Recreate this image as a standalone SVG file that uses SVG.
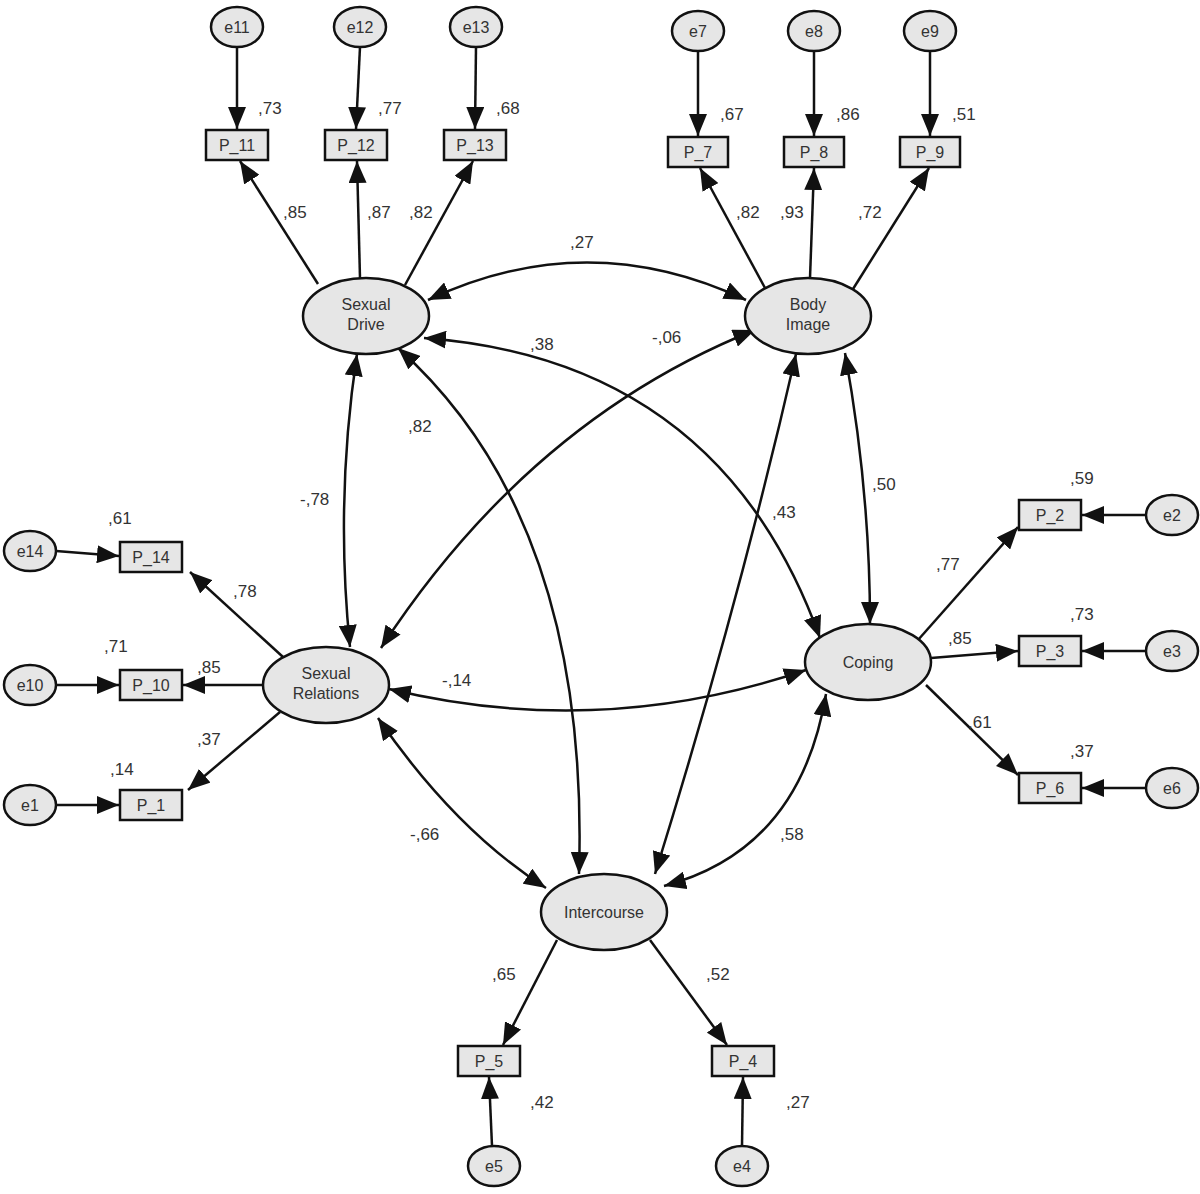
<svg xmlns="http://www.w3.org/2000/svg" width="1200" height="1194" viewBox="0 0 1200 1194">
<style>
text{font-family:"Liberation Sans",Arial,sans-serif;fill:#333;}
.lat{fill:#e6e6e6;stroke:#111;stroke-width:2.5}
.box{fill:#e6e6e6;stroke:#111;stroke-width:2.5}
.t{font-size:16px;text-anchor:middle}
.n{font-size:17px}
.c path,.c line{stroke:#111;stroke-width:2.5;fill:none}
.a{marker-end:url(#ah)}
.d{marker-end:url(#ah);marker-start:url(#ahs)}
</style>
<defs>
<marker id="ah" markerUnits="userSpaceOnUse" markerWidth="24" markerHeight="18" refX="22" refY="9" orient="auto"><path d="M0,0 L22,9 L0,18 Z" fill="#111"/></marker>
<marker id="ahs" markerUnits="userSpaceOnUse" markerWidth="24" markerHeight="18" refX="22" refY="9" orient="auto-start-reverse"><path d="M0,0 L22,9 L0,18 Z" fill="#111"/></marker>
</defs>
<g class="c" id="connectors">
<line class="a" x1="237" y1="47" x2="237" y2="129"/>
<line class="a" x1="360" y1="47" x2="356" y2="129"/>
<line class="a" x1="476" y1="47" x2="475" y2="129"/>
<line class="a" x1="698" y1="51" x2="698" y2="136"/>
<line class="a" x1="814" y1="51" x2="814" y2="136"/>
<line class="a" x1="930" y1="51" x2="930" y2="136"/>
<line class="a" x1="56" y1="551" x2="119" y2="556"/>
<line class="a" x1="56" y1="685" x2="119" y2="685"/>
<line class="a" x1="56" y1="805" x2="119" y2="805"/>
<line class="a" x1="1146" y1="515" x2="1082" y2="515"/>
<line class="a" x1="1146" y1="651" x2="1082" y2="651"/>
<line class="a" x1="1146" y1="788" x2="1082" y2="788"/>
<line class="a" x1="492" y1="1146" x2="489" y2="1077"/>
<line class="a" x1="742" y1="1146" x2="743" y2="1077"/>
<line class="a" x1="318" y1="284" x2="240" y2="161"/>
<line class="a" x1="360" y1="278" x2="357" y2="161"/>
<line class="a" x1="405" y1="285" x2="473" y2="161"/>
<line class="a" x1="765" y1="288" x2="700" y2="168"/>
<line class="a" x1="810" y1="278" x2="814" y2="168"/>
<line class="a" x1="853" y1="289" x2="929" y2="168"/>
<line class="a" x1="283" y1="657" x2="190" y2="572"/>
<line class="a" x1="263" y1="685" x2="183" y2="685"/>
<line class="a" x1="280" y1="712" x2="188" y2="790"/>
<line class="a" x1="918" y1="640" x2="1018" y2="527"/>
<line class="a" x1="931" y1="658" x2="1018" y2="651"/>
<line class="a" x1="926" y1="685" x2="1018" y2="775"/>
<line class="a" x1="557" y1="940" x2="503" y2="1045"/>
<line class="a" x1="650" y1="940" x2="727" y2="1045"/>
<path class="d" d="M428,300 Q587,225 746,300"/>
<path class="d" d="M357,354 Q335,500 350,647"/>
<path class="d" d="M398,348 Q590,520 579,874"/>
<path class="d" d="M424,338 Q720,360 820,638"/>
<path class="d" d="M755,330 Q530,420 381,648"/>
<path class="d" d="M796,354 Q740,600 655,874"/>
<path class="d" d="M845,353 Q870,490 870,624"/>
<path class="d" d="M389,689 Q600,740 806,670"/>
<path class="d" d="M378,718 Q455,830 546,888"/>
<path class="d" d="M826,694 Q800,850 664,886"/>
</g>
<g id="SexualDrive"><ellipse class="lat" cx="366" cy="316" rx="63" ry="38"/><text class="t" x="366" y="310">Sexual</text><text class="t" x="366" y="330">Drive</text></g>
<g id="BodyImage"><ellipse class="lat" cx="808" cy="316" rx="63" ry="38"/><text class="t" x="808" y="310">Body</text><text class="t" x="808" y="330">Image</text></g>
<g id="SexualRelations"><ellipse class="lat" cx="326" cy="685" rx="63" ry="38"/><text class="t" x="326" y="679">Sexual</text><text class="t" x="326" y="699">Relations</text></g>
<g id="Coping"><ellipse class="lat" cx="868" cy="662" rx="63" ry="38"/><text class="t" x="868" y="668">Coping</text></g>
<g id="Intercourse"><ellipse class="lat" cx="604" cy="912" rx="63" ry="38"/><text class="t" x="604" y="918">Intercourse</text></g>
<g id="e11"><ellipse class="lat" cx="237" cy="27" rx="26" ry="20"/><text class="t" x="237" y="33">e11</text></g>
<g id="e12"><ellipse class="lat" cx="360" cy="27" rx="26" ry="20"/><text class="t" x="360" y="33">e12</text></g>
<g id="e13"><ellipse class="lat" cx="476" cy="27" rx="26" ry="20"/><text class="t" x="476" y="33">e13</text></g>
<g id="e7"><ellipse class="lat" cx="698" cy="31" rx="26" ry="20"/><text class="t" x="698" y="37">e7</text></g>
<g id="e8"><ellipse class="lat" cx="814" cy="31" rx="26" ry="20"/><text class="t" x="814" y="37">e8</text></g>
<g id="e9"><ellipse class="lat" cx="930" cy="31" rx="26" ry="20"/><text class="t" x="930" y="37">e9</text></g>
<g id="e14"><ellipse class="lat" cx="30" cy="551" rx="26" ry="20"/><text class="t" x="30" y="557">e14</text></g>
<g id="e10"><ellipse class="lat" cx="30" cy="685" rx="26" ry="20"/><text class="t" x="30" y="691">e10</text></g>
<g id="e1"><ellipse class="lat" cx="30" cy="805" rx="26" ry="20"/><text class="t" x="30" y="811">e1</text></g>
<g id="e2"><ellipse class="lat" cx="1172" cy="515" rx="26" ry="20"/><text class="t" x="1172" y="521">e2</text></g>
<g id="e3"><ellipse class="lat" cx="1172" cy="651" rx="26" ry="20"/><text class="t" x="1172" y="657">e3</text></g>
<g id="e6"><ellipse class="lat" cx="1172" cy="788" rx="26" ry="20"/><text class="t" x="1172" y="794">e6</text></g>
<g id="e5"><ellipse class="lat" cx="494" cy="1166" rx="26" ry="20"/><text class="t" x="494" y="1172">e5</text></g>
<g id="e4"><ellipse class="lat" cx="742" cy="1166" rx="26" ry="20"/><text class="t" x="742" y="1172">e4</text></g>
<g id="P_11"><rect class="box" x="206" y="130" width="62" height="30"/><text class="t" x="237" y="151">P_11</text></g>
<g id="P_12"><rect class="box" x="325" y="130" width="62" height="30"/><text class="t" x="356" y="151">P_12</text></g>
<g id="P_13"><rect class="box" x="444" y="130" width="62" height="30"/><text class="t" x="475" y="151">P_13</text></g>
<g id="P_7"><rect class="box" x="668" y="137" width="60" height="30"/><text class="t" x="698" y="158">P_7</text></g>
<g id="P_8"><rect class="box" x="784" y="137" width="60" height="30"/><text class="t" x="814" y="158">P_8</text></g>
<g id="P_9"><rect class="box" x="900" y="137" width="60" height="30"/><text class="t" x="930" y="158">P_9</text></g>
<g id="P_14"><rect class="box" x="120" y="542" width="62" height="30"/><text class="t" x="151" y="563">P_14</text></g>
<g id="P_10"><rect class="box" x="120" y="670" width="62" height="30"/><text class="t" x="151" y="691">P_10</text></g>
<g id="P_1"><rect class="box" x="120" y="790" width="62" height="30"/><text class="t" x="151" y="811">P_1</text></g>
<g id="P_2"><rect class="box" x="1019" y="500" width="62" height="30"/><text class="t" x="1050" y="521">P_2</text></g>
<g id="P_3"><rect class="box" x="1019" y="636" width="62" height="30"/><text class="t" x="1050" y="657">P_3</text></g>
<g id="P_6"><rect class="box" x="1019" y="773" width="62" height="30"/><text class="t" x="1050" y="794">P_6</text></g>
<g id="P_5"><rect class="box" x="458" y="1046" width="62" height="30"/><text class="t" x="489" y="1067">P_5</text></g>
<g id="P_4"><rect class="box" x="712" y="1046" width="62" height="30"/><text class="t" x="743" y="1067">P_4</text></g>
<g id="labels" class="n">
<text x="258" y="114">,73</text><text x="378" y="114">,77</text><text x="496" y="114">,68</text>
<text x="720" y="120">,67</text><text x="836" y="120">,86</text><text x="952" y="120">,51</text>
<text x="283" y="218">,85</text><text x="367" y="218">,87</text><text x="409" y="218">,82</text>
<text x="736" y="218">,82</text><text x="780" y="218">,93</text><text x="858" y="218">,72</text>
<text x="570" y="248">,27</text><text x="530" y="350">,38</text><text x="652" y="343">-,06</text>
<text x="408" y="432">,82</text><text x="300" y="505">-,78</text><text x="772" y="518">,43</text><text x="872" y="490">,50</text>
<text x="108" y="524">,61</text><text x="233" y="597">,78</text><text x="104" y="652">,71</text><text x="197" y="673">,85</text>
<text x="197" y="745">,37</text><text x="110" y="775">,14</text><text x="442" y="686">-,14</text>
<text x="1070" y="484">,59</text><text x="936" y="570">,77</text><text x="1070" y="620">,73</text><text x="948" y="644">,85</text>
<text x="1070" y="757">,37</text><text x="968" y="728">,61</text>
<text x="410" y="840">-,66</text><text x="780" y="840">,58</text>
<text x="492" y="980">,65</text><text x="706" y="980">,52</text>
<text x="530" y="1108">,42</text><text x="786" y="1108">,27</text>
</g>
</svg>
